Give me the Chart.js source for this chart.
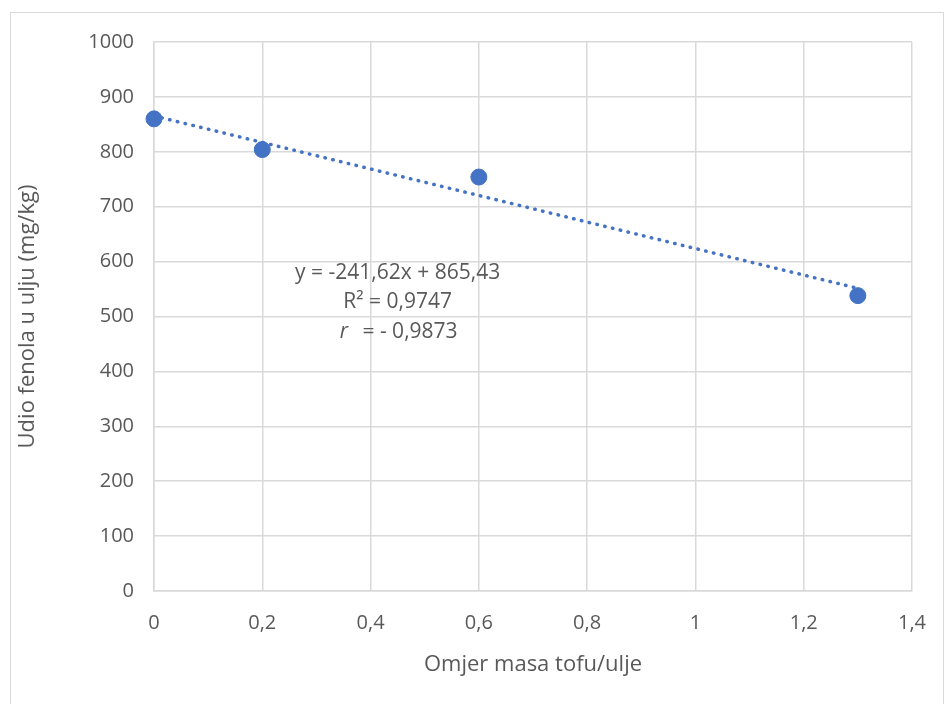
<!DOCTYPE html>
<html lang="hr">
<head>
    <meta charset="UTF-8">
    <title>Udio fenola u ulju</title>
    <script src="https://cdn.jsdelivr.net/npm/chart.js"></script>
    <style>
        body { margin: 0; background: #fff; }
        #wrap { position: absolute; left: 10px; top: 12px; width: 932px; height: 700px; border: 1px solid #d9d9d9; }
        #wrap canvas { display: block; }
    </style>
</head>
<body>
    <div id="wrap"><canvas id="scatterChart" width="932" height="691" style="width:932px;height:691px"></canvas></div>

    <script>
        // measured points (ratio tofu/oil vs phenol content)
        const massRatio = [0, 0.2, 0.6, 1.3];
        const phenolContent = [860, 804, 754, 538];
        // linear trendline endpoints
        const trendX = [0, 1.3];
        const trendY = [865.4, 551.3];
        const equationLines = ['y = -241,62x + 865,43', 'R² = 0,9747', '= - 0,9873'];

        const font = "'Open Sans', 'Liberation Sans', sans-serif";
        const grey = '#595959';
        const fmt = v => String(Math.round(v * 10) / 10).replace('.', ',');

        const labelPlugin = {
            id: 'equationLabel',
            afterDatasetsDraw(chart) {
                const c = chart.ctx;
                const x = chart.scales.x, y = chart.scales.y;
                c.save();
                c.fillStyle = grey;
                c.font = '21px ' + font;
                c.textAlign = 'center';
                c.textBaseline = 'middle';
                c.fillText(equationLines[0], x.getPixelForValue(0.45), y.getPixelForValue(580));
                c.fillText(equationLines[1], x.getPixelForValue(0.45), y.getPixelForValue(527));
                c.textAlign = 'left';
                c.fillText(equationLines[2], x.getPixelForValue(0.385), y.getPixelForValue(472));
                c.font = 'italic 21px ' + font;
                c.fillText('r', x.getPixelForValue(0.343), y.getPixelForValue(472));
                c.restore();
            }
        };

        new Chart(document.getElementById('scatterChart'), {
            type: 'scatter',
            data: {
                datasets: [{
                    label: 'Udio fenola',
                    data: massRatio.map((v, i) => ({ x: v, y: phenolContent[i] })),
                    backgroundColor: '#4472c4',
                    borderColor: '#4472c4',
                    pointRadius: 8,
                    pointHoverRadius: 8,
                    clip: false,
                    order: 1
                }, {
                    label: 'Trend',
                    type: 'line',
                    data: trendX.map((v, i) => ({ x: v, y: trendY[i] })),
                    borderColor: '#4472c4',
                    borderWidth: 3.5,
                    borderDash: [0.5, 7.5],
                    borderCapStyle: 'round',
                    pointRadius: 0,
                    fill: false,
                    clip: false,
                    order: 2
                }]
            },
            options: {
                responsive: false,
                animation: false,
                devicePixelRatio: 1,
                layout: { padding: { left: 0, right: 31, top: 29, bottom: 22 } },
                plugins: { legend: { display: false }, tooltip: { enabled: false } },
                scales: {
                    x: {
                        type: 'linear',
                        min: 0, max: 1.4,
                        ticks: { stepSize: 0.2, color: grey, font: { family: font, size: 20 }, padding: 20, callback: fmt },
                        grid: { color: '#d9d9d9', lineWidth: 1.5, drawTicks: false },
                        border: { color: '#d9d9d9', width: 1.5 },
                        title: { display: true, text: 'Omjer masa tofu/ulje', color: grey, font: { family: font, size: 22 }, padding: { top: 12 } },
                        afterFit: s => { s.height = 91; s.paddingLeft = 0; s.paddingRight = 0; }
                    },
                    y: {
                        min: 0, max: 1000,
                        ticks: { stepSize: 100, color: grey, font: { family: font, size: 20 }, padding: 20, callback: v => String(v) },
                        grid: { color: '#d9d9d9', lineWidth: 1.5, drawTicks: false },
                        border: { color: '#d9d9d9', width: 1.5 },
                        title: { display: true, text: 'Udio fenola u ulju (mg/kg)', color: grey, font: { family: font, size: 22 }, padding: { bottom: 12 } },
                        afterFit: s => { s.width = 143; s.paddingTop = 0; s.paddingBottom = 0; }
                    }
                }
            },
            plugins: [labelPlugin]
        });
    </script>
</body>
</html>
